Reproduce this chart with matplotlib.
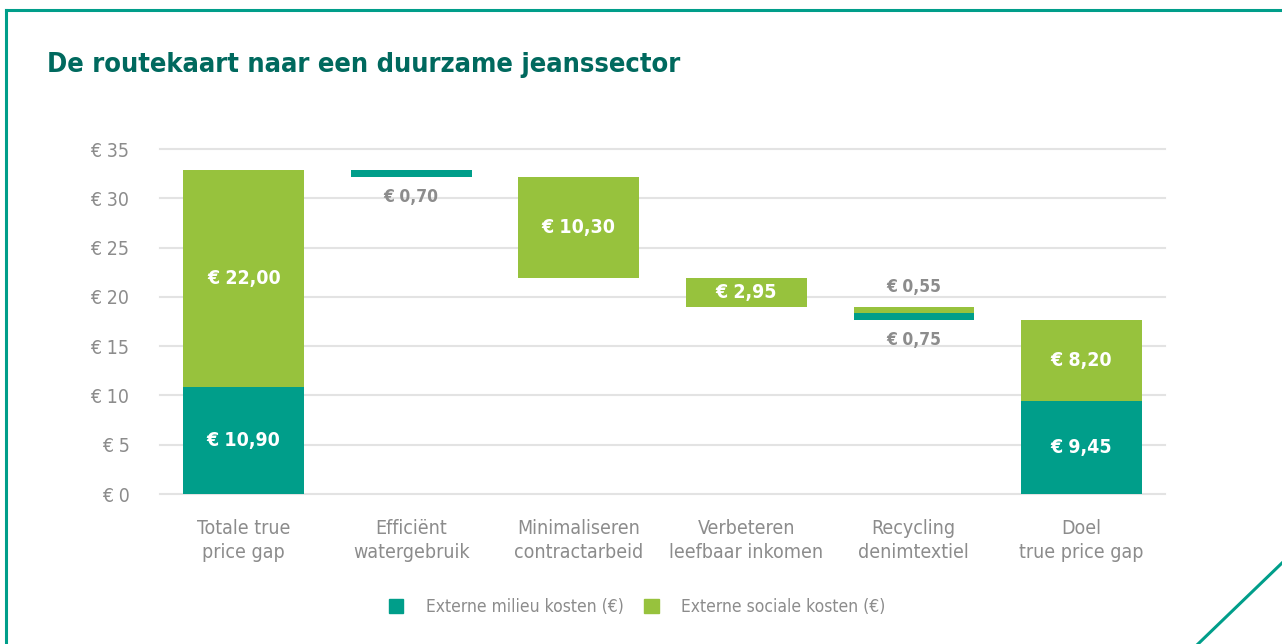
import matplotlib
matplotlib.use("Agg")
import matplotlib.pyplot as plt
from matplotlib.patches import Patch
from matplotlib.lines import Line2D

# chart data
categories = ["Totale true\nprice gap", "Efficiënt\nwatergebruik", "Minimaliseren\ncontractarbeid",
              "Verbeteren\nleefbaar inkomen", "Recycling\ndenimtextiel", "Doel\ntrue price gap"]
milieu = [10.90, 0.70, 0.0, 0.0, 0.75, 9.45]
sociale = [22.00, 0.0, 10.30, 2.95, 0.55, 8.20]
kind = ["total", "step", "step", "step", "step", "total"]
yticks = [0, 5, 10, 15, 20, 25, 30, 35]

TEAL = "#009E8A"
GREEN = "#97C23D"
TITLE = "#00695E"
GREY = "#8C8C8C"

plt.rcParams["font.family"] = ["DejaVu Sans"]
plt.rcParams["font.stretch"] = "condensed"


def euro(v):
    return f"€ {v:.2f}".replace(".", ",")


fig = plt.figure(figsize=(12.82, 6.44), dpi=100)
ax = fig.add_axes([0.1248, 0.2329, 0.784, 0.5357])

level = milieu[0] + sociale[0]
for i, cat in enumerate(categories):
    m, s = milieu[i], sociale[i]
    if kind[i] == "total":
        ax.bar(i, m, 0.72, bottom=0, color=TEAL, zorder=3)
        ax.bar(i, s, 0.72, bottom=m, color=GREEN, zorder=3)
        ax.text(i, m / 2, euro(m), ha="center", va="center", color="white",
                fontsize=14, fontweight="bold", zorder=4)
        ax.text(i, m + s / 2, euro(s), ha="center", va="center", color="white",
                fontsize=14, fontweight="bold", zorder=4)
        continue
    # step down: social part on top, environmental part below
    top = level
    if s > 0:
        ax.bar(i, s, 0.72, bottom=top - s, color=GREEN, zorder=3)
    if m > 0:
        ax.bar(i, m, 0.72, bottom=top - s - m, color=TEAL, zorder=3)
    level = top - s - m
    if m > 0 and s > 0:
        ax.annotate(euro(s), (i, top), xytext=(0, 8), textcoords="offset points",
                    ha="center", va="bottom", color=GREY, fontsize=12.5, fontweight="bold")
        ax.annotate(euro(m), (i, level), xytext=(0, -8), textcoords="offset points",
                    ha="center", va="top", color=GREY, fontsize=12.5, fontweight="bold")
    elif s >= 1.5:
        ax.text(i, top - s / 2, euro(s), ha="center", va="center", color="white",
                fontsize=14, fontweight="bold", zorder=4)
    else:
        v = m if m > 0 else s
        ax.annotate(euro(v), (i, level), xytext=(0, -8), textcoords="offset points",
                    ha="center", va="top", color=GREY, fontsize=12.5, fontweight="bold")

ax.set_xlim(-0.5, len(categories) - 0.5)
ax.set_ylim(0, 35)
ax.set_yticks(yticks)
ax.set_yticklabels([f"€ {t}" for t in yticks])
ax.set_xticks(range(len(categories)))
ax.set_xticklabels(categories, linespacing=1.3)
ax.tick_params(axis="y", length=0, pad=22, labelsize=14, labelcolor=GREY)
ax.tick_params(axis="x", length=0, pad=18, labelsize=14, labelcolor=GREY)
ax.grid(axis="y", color="#E3E3E3", linewidth=1.5, zorder=0)
for gl in ax.get_ygridlines():
    gl.set_clip_on(False)
for sp in ax.spines.values():
    sp.set_visible(False)

fig.text(47 / 1282, 1 - 65 / 644, "De routekaart naar een duurzame jeanssector",
         color=TITLE, fontsize=19.5, fontweight="bold", va="center", ha="left")

handles = [Patch(color=TEAL, label="Externe milieu kosten (€)"),
           Patch(color=GREEN, label="Externe sociale kosten (€)")]
leg = fig.legend(handles=handles, loc="center", bbox_to_anchor=(0.497, 1 - 607 / 644),
                 ncol=2, frameon=False, fontsize=12.5, handlelength=0.86, handleheight=0.86,
                 handletextpad=1.3, columnspacing=1.15)
for t in leg.get_texts():
    t.set_color(GREY)

# decorative frame
x0 = 6 / 1282
yt = 1 - 10 / 644
fig.add_artist(Line2D([x0, 1], [yt, yt], color=TEAL, lw=2.2, transform=fig.transFigure))
fig.add_artist(Line2D([x0, x0], [yt, 0], color=TEAL, lw=2.2, transform=fig.transFigure))
fig.add_artist(Line2D([1198 / 1282, 1], [0, 1 - 563 / 644], color=TEAL, lw=2.2,
                      transform=fig.transFigure))

fig.savefig("out.png", dpi=100)
